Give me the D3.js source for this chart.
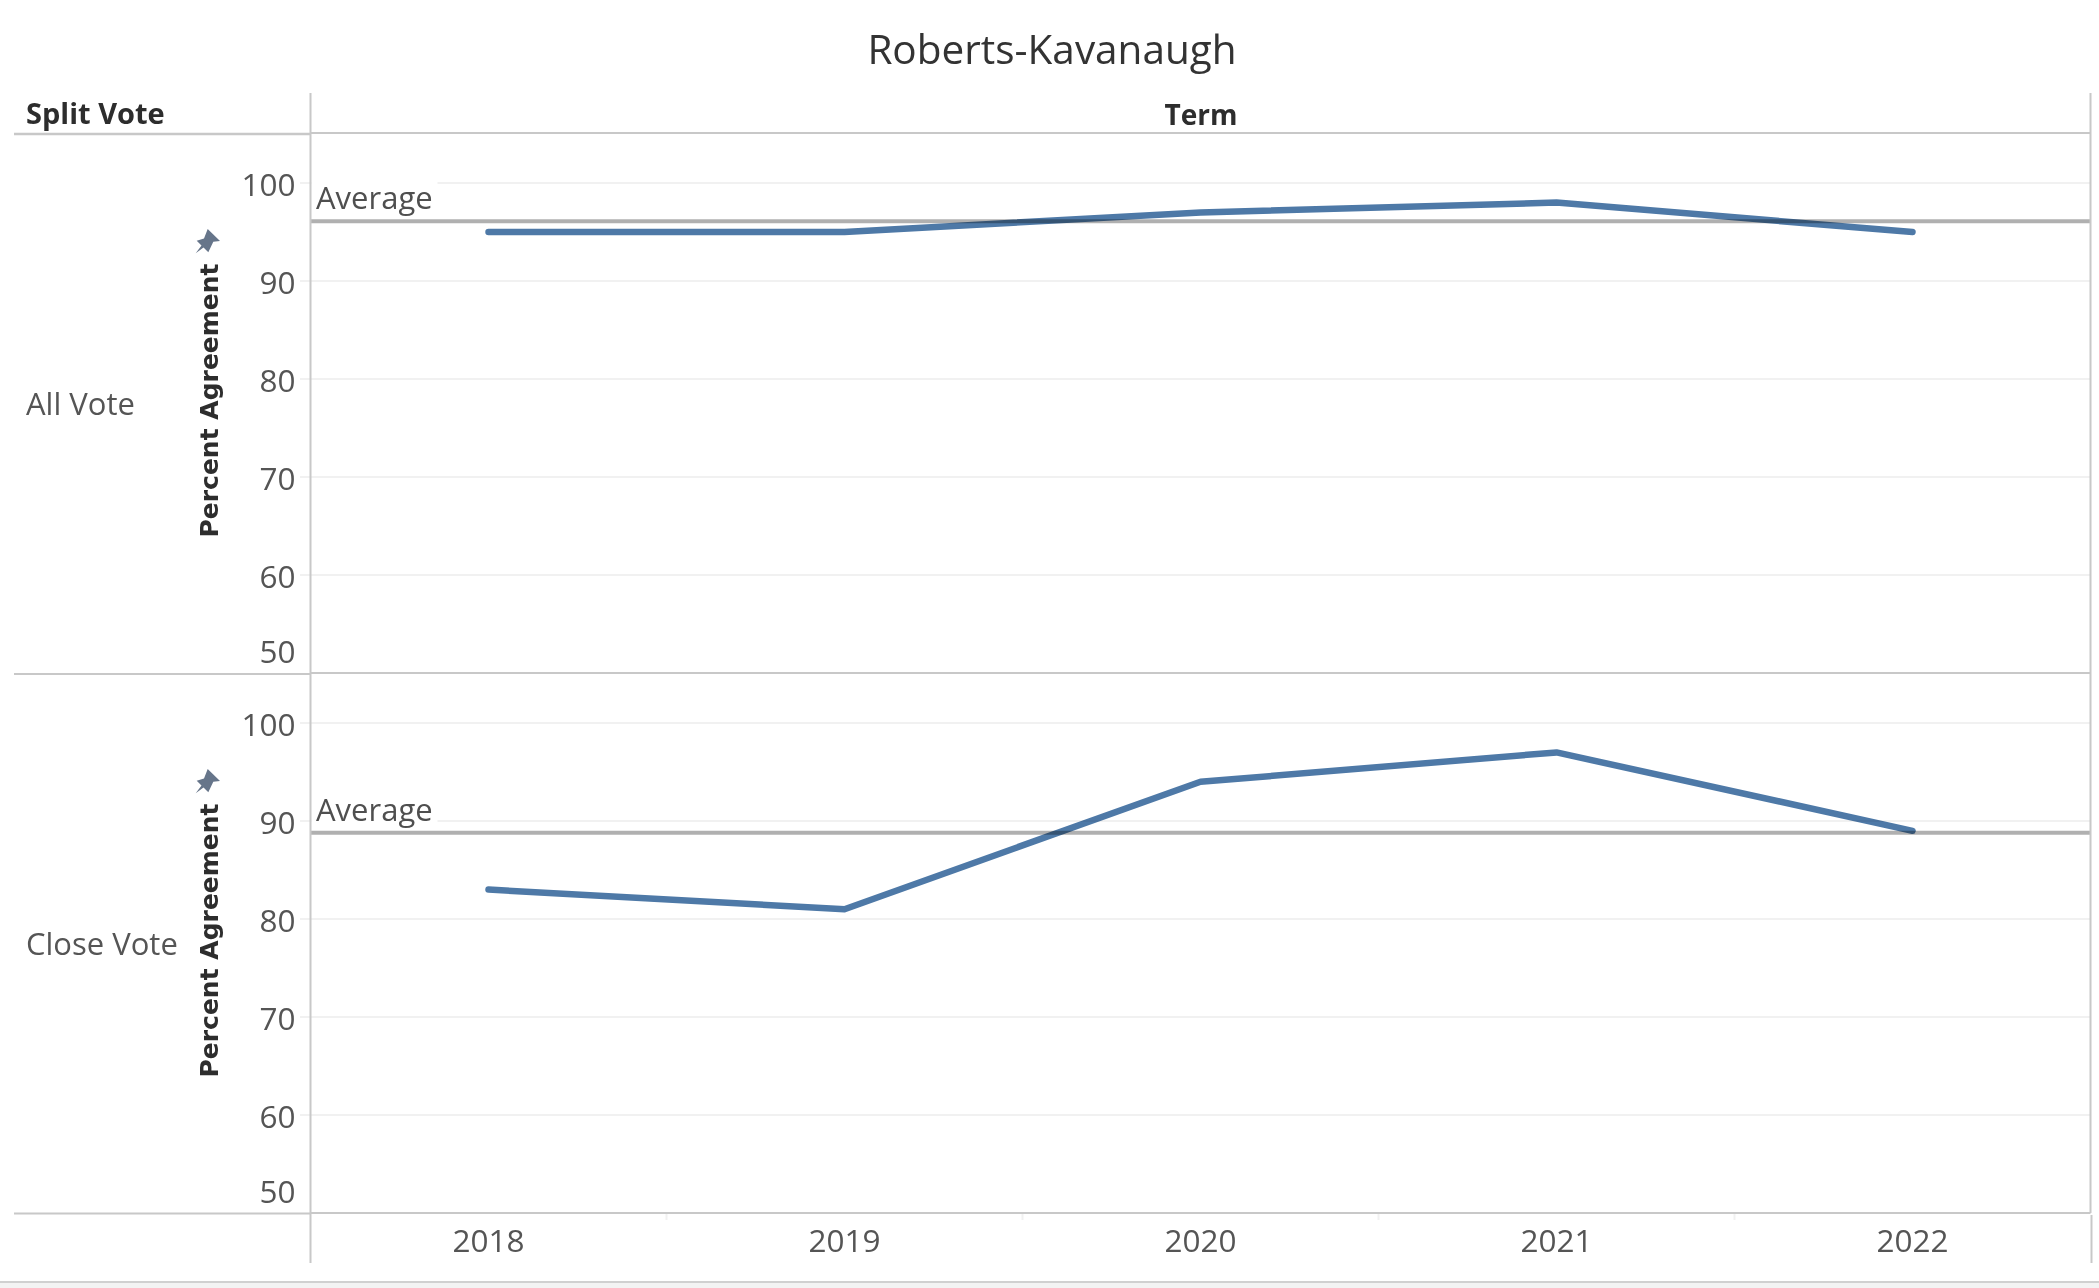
<!DOCTYPE html>
<html><head><meta charset="utf-8">
<script src="https://d3js.org/d3.v7.min.js"></script>
<style>
html,body{margin:0;padding:0;background:#fff}
svg{display:block}
text{font-family:"Open Sans","Noto Sans",sans-serif}
.axis path{display:none}
</style></head><body>
<script>
const chartTitle = "Roberts-Kavanaugh";
const terms = ["2018","2019","2020","2021","2022"];
const splitVotes = ["All Vote","Close Vote"];
const allVote = [95,95,97,98,95];
const closeVote = [83,81,94,97,89];
const averages = [96.1,88.8];
const yTicks = [50,60,70,80,90,100];
const yAxisTitle = "Percent Agreement";

const W=2099,H=1288;
const svg=d3.select("body").append("svg").attr("width",W).attr("height",H);
const L=310.5,R=2090.5;
const bands=[[134,673],[674,1213]];
const rule="#c8c8c8",grid="#f1f1f1",txt="#555555",dark="#2d2d2d";
const x=d3.scaleBand().domain(terms).range([L,R]);
const xc=d=>x(d)+x.bandwidth()/2;
const series=[allVote,closeVote];

svg.append("text").attr("x",1052).attr("y",63.5).attr("text-anchor","middle")
  .attr("font-size",40.5).attr("fill","#333333").text(chartTitle);
svg.append("text").attr("x",26).attr("y",123.5).attr("font-size",29).attr("font-weight",700).attr("fill",dark).text("Split Vote");
svg.append("text").attr("x",1201).attr("y",124.5).attr("text-anchor","middle").attr("font-size",28).attr("font-weight",700).attr("fill",dark).text("Term");

bands.forEach((b,i)=>{
  const [t,bt]=b;
  const y=d3.scaleLinear().domain([50,105]).range([bt,t]);
  const g=svg.append("g");
  g.append("g").selectAll("line").data(yTicks.filter(d=>d>50)).join("line")
    .attr("x1",300).attr("x2",R).attr("y1",d=>y(d)).attr("y2",d=>y(d))
    .attr("stroke",grid).attr("stroke-width",2);
  const ax=g.append("g").attr("class","axis").attr("transform",`translate(${L-15},0)`)
    .call(d3.axisLeft(y).tickValues(yTicks).tickSize(0).tickPadding(0));
  ax.selectAll("text").attr("font-size",31.5).attr("fill",txt)
    .attr("dy",d=>d===50?"-0.34em":"0.39em")
    .style("font-family",'"Open Sans"');
  g.append("text").attr("x",26).attr("y",(t+bt)/2+11).attr("font-size",31).attr("fill",txt).text(splitVotes[i]);
  g.append("text").attr("transform",`translate(218,${(t+bt)/2-3}) rotate(-90)`)
    .attr("text-anchor","middle").attr("font-size",25).attr("font-weight",700)
    .attr("fill",dark).style("font-family",'"DejaVu Sans"').text(yAxisTitle);
  const pin=g.append("g").attr("transform",`translate(207,${t+108})`);
  pin.append("path").attr("fill","#66758a")
    .attr("d","M0.7,-13 L13,-1 L6.3,-0.3 L1.3,10.3 L-3.5,5.5 L-11.3,11.3 L-5.5,3.5 L-10.3,-1.3 L-3,-3.5 Z");
  const ay=y(averages[i]);
  g.append("rect").attr("x",L+1).attr("y",ay-42).attr("width",126).attr("height",38).attr("fill","#fff");
  g.append("text").attr("x",316).attr("y",ay-12).attr("font-size",31).attr("fill","#4f4f4f").text("Average");
  g.append("line").attr("x1",L).attr("x2",R).attr("y1",ay).attr("y2",ay).attr("stroke","#b0b0b0").attr("stroke-width",4);
  g.append("path").datum(series[i]).attr("fill","none").attr("stroke","#4e79a7").attr("stroke-width",6.5)
    .attr("stroke-linecap","round").attr("stroke-linejoin","round").style("mix-blend-mode","multiply")
    .attr("d",d3.line().x((d,j)=>xc(terms[j])).y(d=>y(d)));
});

const hl=(a,b,yy,w=2)=>svg.append("line").attr("x1",a).attr("x2",b).attr("y1",yy).attr("y2",yy).attr("stroke",rule).attr("stroke-width",w);
const vl=(xx,a,b,w=2)=>svg.append("line").attr("x1",xx).attr("x2",xx).attr("y1",a).attr("y2",b).attr("stroke",rule).attr("stroke-width",w);
hl(14,L,134,2.5);hl(L,R,133,2);
hl(14,L,674,2);hl(L,R,673,2);
hl(14,L,1213.5,2);hl(L,R,1213,2);
vl(L,93,1263);vl(R,93,1213);vl(R+1,1215,1263);

const xa=svg.append("g").attr("class","axis").attr("transform","translate(0,1243)")
  .call(d3.axisBottom(x).tickSize(0).tickPadding(0));
xa.selectAll("text").attr("font-size",31.5).attr("fill",txt).attr("dy","0.02em").attr("y",0)
  .attr("dominant-baseline","middle").style("font-family",'"Open Sans"');
svg.append("g").selectAll("line").data(terms.slice(1)).join("line")
  .attr("x1",d=>x(d)).attr("x2",d=>x(d)).attr("y1",1214).attr("y2",1220).attr("stroke",grid).attr("stroke-width",2);

svg.append("rect").attr("x",0).attr("y",1283).attr("width",W).attr("height",5).attr("fill","#f3f3f3");
svg.append("line").attr("x1",0).attr("x2",W).attr("y1",1282).attr("y2",1282).attr("stroke","#d0d0d0").attr("stroke-width",2);
</script>
</body></html>
